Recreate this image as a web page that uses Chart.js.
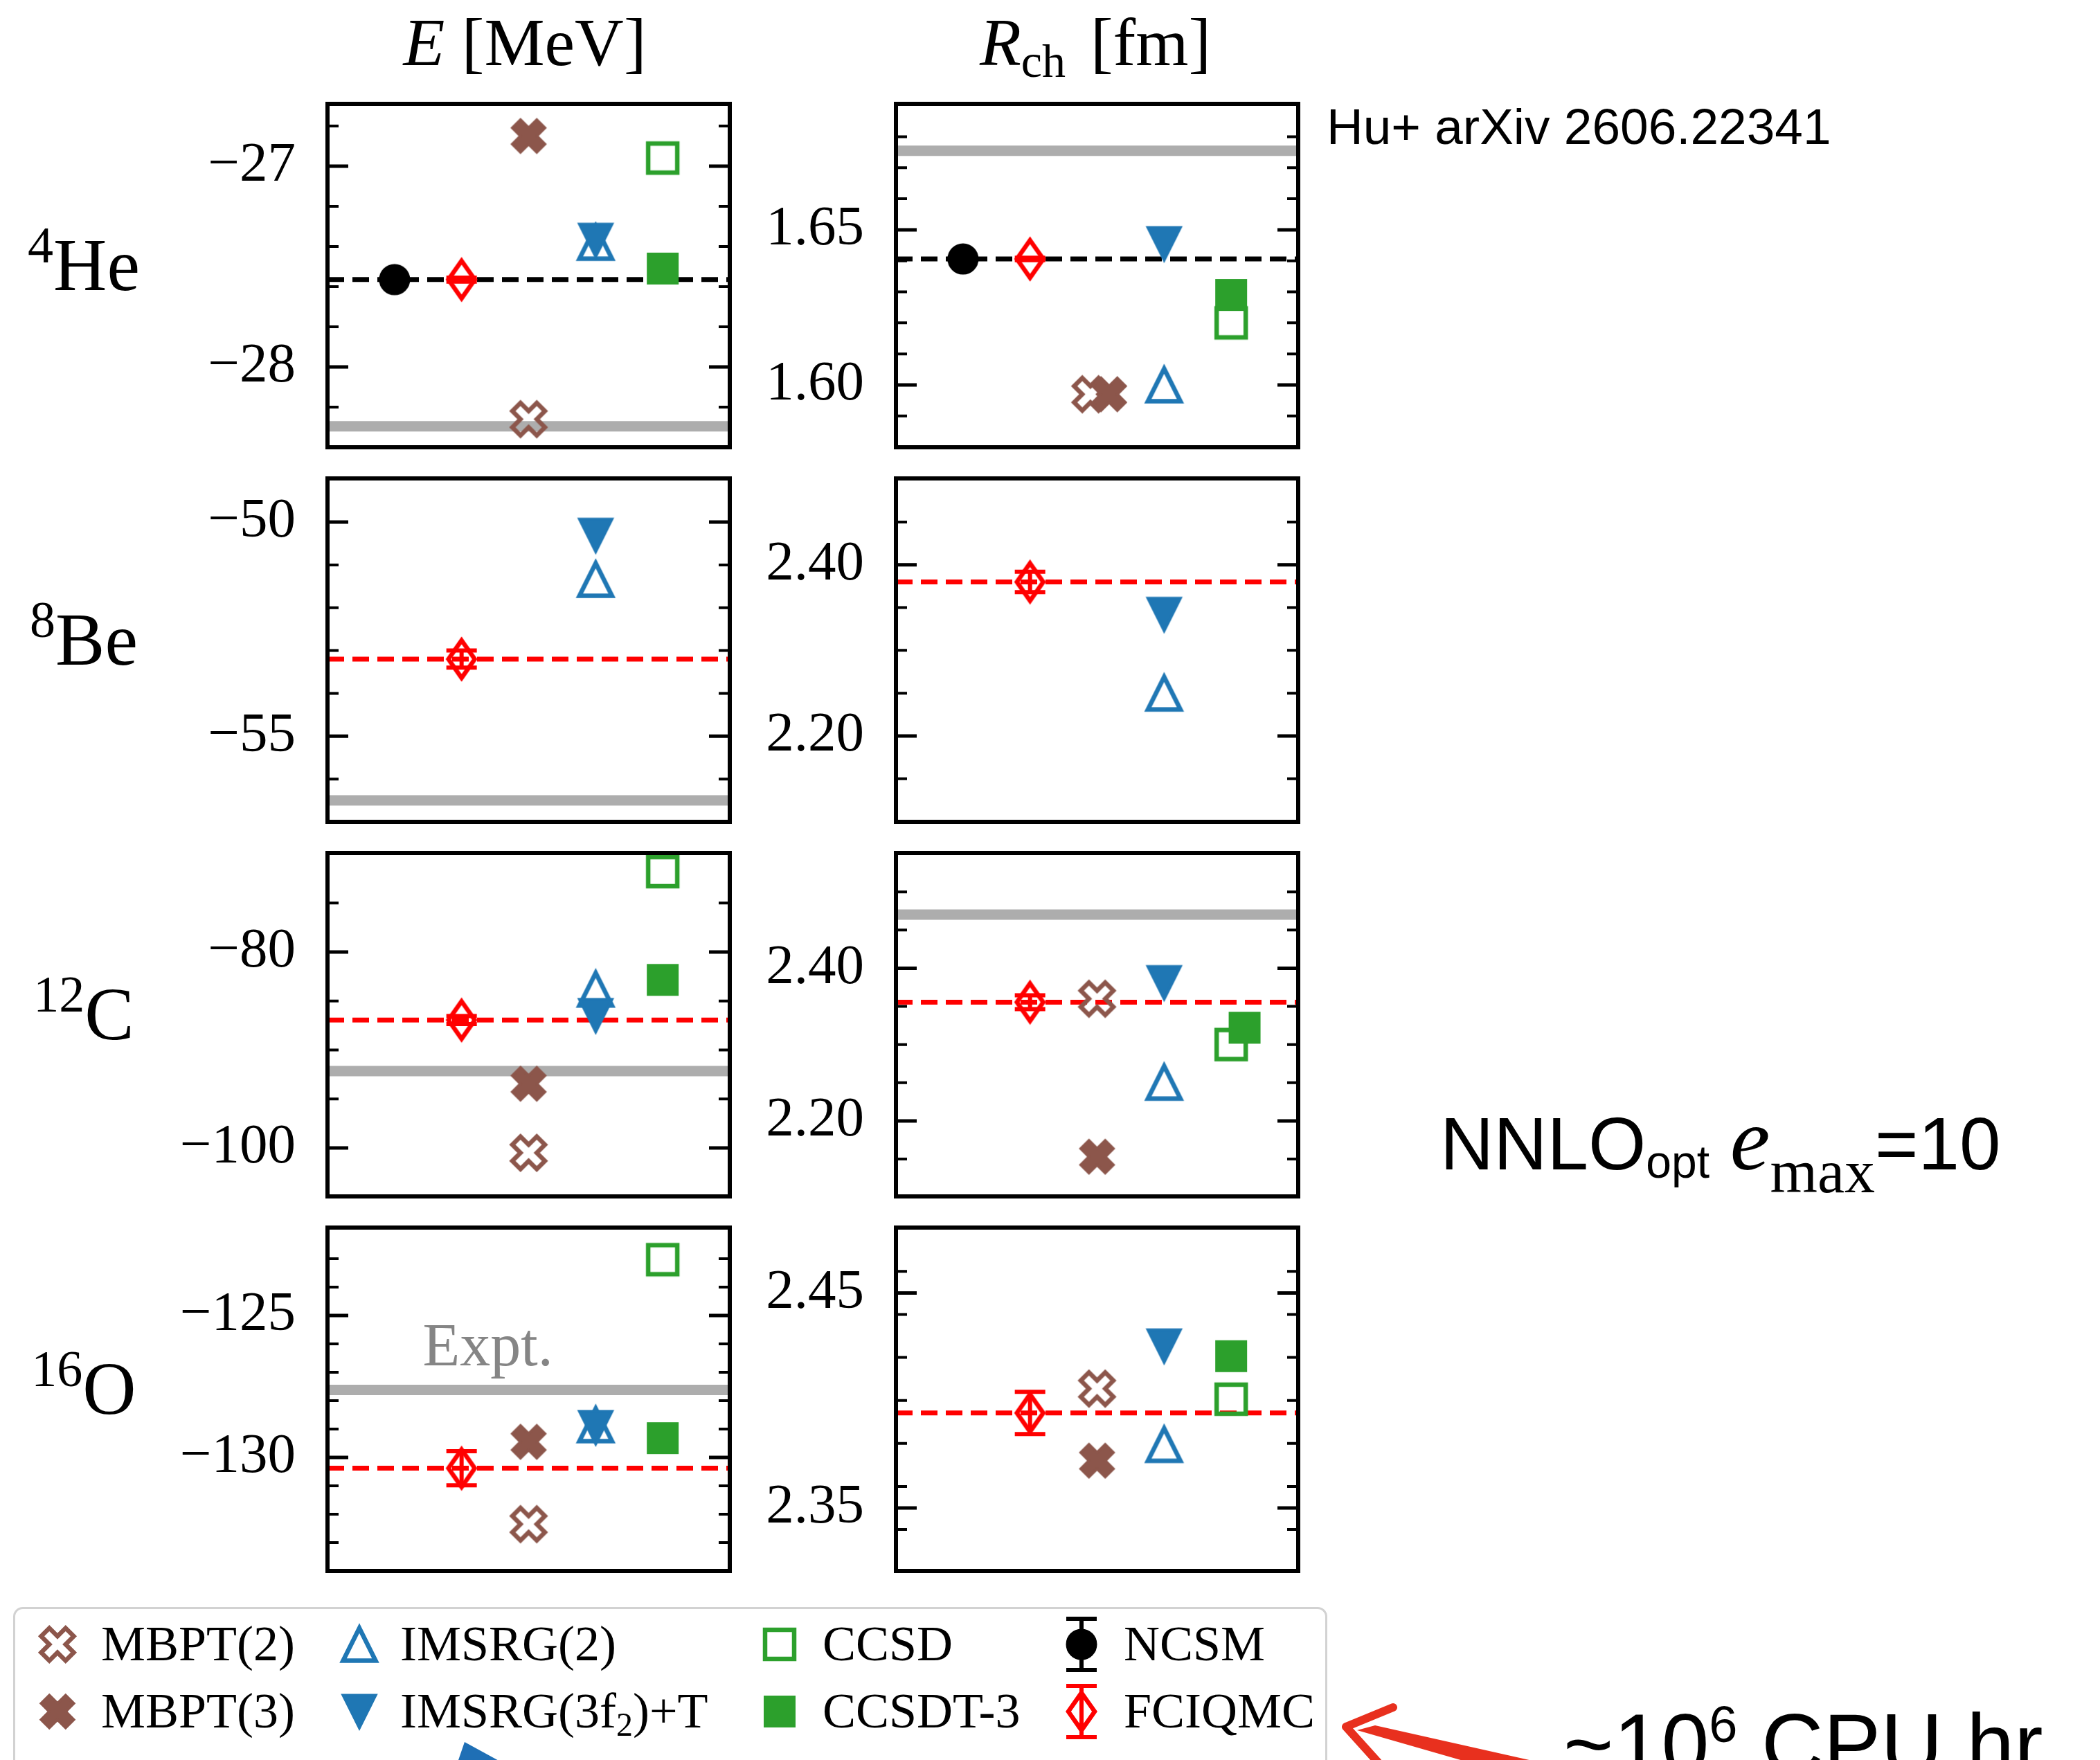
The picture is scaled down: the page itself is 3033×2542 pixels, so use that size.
<!DOCTYPE html>
<html lang="en">
<head>
<meta charset="utf-8">
<title>Ground-state energies and charge radii</title>
<script src="https://cdn.jsdelivr.net/npm/chart.js@4.4.1/dist/chart.umd.min.js"></script>
<style>
  html, body { margin:0; padding:0; background:#ffffff; }
  body { width:3033px; height:2542px; overflow:hidden; position:relative; }
  .abs { position:absolute; white-space:nowrap; line-height:1; color:#000; }
  .serif { font-family:"Liberation Serif","DejaVu Serif",serif; }
  .sans { font-family:"Liberation Sans",Arial,"DejaVu Sans",sans-serif; }
  .lo { line-height:0; }
  canvas.panel { position:absolute; }
  #lbox { position:absolute; left:19px; top:2321px; width:1898px; height:320px; border:3px solid #d2d2d2; border-radius:14px; box-sizing:border-box; background:#fff; }
</style>
</head>
<body>
<div id="lbox"></div>
<script>
// ================= DATA =================
const nucleusMass   = ['4', '8', '12', '16'];
const nucleusSymbol = ['He', 'Be', 'C', 'O'];
const methodNames   = ['MBPT(2)', 'MBPT(3)', 'IMSRG(2)', 'IMSRG(3f2)+T', 'CCSD', 'CCSDT-3', 'NCSM', 'FCIQMC'];

// Ground-state energies E [MeV]  (order: 4He, 8Be, 12C, 16O)
const E_MBPT2   = [-28.26, null, -100.5, -132.35];
const E_MBPT3   = [-26.85, null, -93.45, -129.45];
const E_IMSRG2  = [-27.38, -51.34, -83.8, -128.85];
const E_IMSRG3  = [-27.37, -50.31, -86.5, -128.95];
const E_CCSD    = [-26.96, null, -71.8, -123.03];
const E_CCSDT3  = [-27.51, null, -82.85, -129.32];
const E_NCSM    = [-27.565, null, null, null];
const E_NCSM_ERR   = [0.005, null, null, null];
const E_FCIQMC  = [-27.565, -53.2, -86.95, -130.38];
const E_FCIQMC_ERR = [0.01, 0.2, 0.4, 0.6];
const E_EXPT    = [-28.296, -56.50, -92.16, -127.62];

// Charge radii R_ch [fm]
const R_MBPT2   = [1.597, null, 2.360, 2.4055];
const R_MBPT3   = [1.597, null, 2.153, 2.372];
const R_IMSRG2  = [1.600, 2.250, 2.2505, 2.3795];
const R_IMSRG3  = [1.6455, 2.342, 2.381, 2.4253];
const R_CCSD    = [1.620, null, 2.300, 2.4006];
const R_CCSDT3  = [1.629, null, 2.322, 2.4206];
const R_NCSM    = [1.6406, null, null, null];
const R_NCSM_ERR   = [0.0003, null, null, null];
const R_FCIQMC  = [1.6406, 2.380, 2.3555, 2.3942];
const R_FCIQMC_ERR = [0.0004, 0.012, 0.009, 0.0098];
const R_EXPT    = [1.6755, null, 2.4702, null];

// Tick values and labels
const E_TICKS       = [[-27, -28], [-50, -55], [-80, -100], [-125, -130]];
const E_TICK_LABELS = [['\u221227', '\u221228'], ['\u221250', '\u221255'], ['\u221280', '\u2212100'], ['\u2212125', '\u2212130']];
const R_TICKS       = [[1.60, 1.65], [2.20, 2.40], [2.20, 2.40], [2.35, 2.45]];
const R_TICK_LABELS = [['1.60', '1.65'], ['2.20', '2.40'], ['2.20', '2.40'], ['2.35', '2.45']];
const E_RANGE = [[-28.40, -26.69], [-57.0, -48.98], [-104.95, -69.9], [-134.0, -121.9]];
const R_RANGE = [[1.5799, 1.6906], [2.0996, 2.501], [2.101, 2.551], [2.3207, 2.4804]];
const E_MINOR_STEP = [0.2, 1, 5, 1];
const R_MINOR_STEP = [0.01, 0.05, 0.05, 0.02];

const EXPT_LABEL = 'Expt.';

// ================= STYLE / LAYOUT =================
const BROWN = '#8c564b', BLUE = '#1f77b4', GREEN = '#2ca02c', RED = '#ff0000', BLACK = '#000000';
const BAND = '#adadad';
const METHOD_STYLE = {
  'MBPT(2)':      { shape: 'X',            color: BROWN, filled: false, col: 3 },
  'MBPT(3)':      { shape: 'X',            color: BROWN, filled: true,  col: 3 },
  'IMSRG(2)':     { shape: 'tri_up',       color: BLUE,  filled: false, col: 4 },
  'IMSRG(3f2)+T': { shape: 'tri_down',     color: BLUE,  filled: true,  col: 4 },
  'CCSD':         { shape: 'square',       color: GREEN, filled: false, col: 5 },
  'CCSDT-3':      { shape: 'square',       color: GREEN, filled: true,  col: 5 },
  'NCSM':         { shape: 'circle',       color: BLACK, filled: true,  col: 1 },
  'FCIQMC':       { shape: 'thin_diamond', color: RED,   filled: false, col: 2 }
};
// small horizontal shifts used in the original to avoid overlap
const X_SHIFT = { R: { 0: { 'MBPT(2)': -0.1, 'MBPT(3)': 0.18 }, 2: { 'CCSDT-3': 0.2 } }, E: {} };

const DATA = {
  E: { 'MBPT(2)': E_MBPT2, 'MBPT(3)': E_MBPT3, 'IMSRG(2)': E_IMSRG2, 'IMSRG(3f2)+T': E_IMSRG3,
       'CCSD': E_CCSD, 'CCSDT-3': E_CCSDT3, 'NCSM': E_NCSM, 'FCIQMC': E_FCIQMC },
  R: { 'MBPT(2)': R_MBPT2, 'MBPT(3)': R_MBPT3, 'IMSRG(2)': R_IMSRG2, 'IMSRG(3f2)+T': R_IMSRG3,
       'CCSD': R_CCSD, 'CCSDT-3': R_CCSDT3, 'NCSM': R_NCSM, 'FCIQMC': R_FCIQMC }
};
const ERR = { E: { 'NCSM': E_NCSM_ERR, 'FCIQMC': E_FCIQMC_ERR }, R: { 'NCSM': R_NCSM_ERR, 'FCIQMC': R_FCIQMC_ERR } };
const EXPT = { E: E_EXPT, R: R_EXPT };
const AXIS = {
  E: { ticks: E_TICKS, labels: E_TICK_LABELS, range: E_RANGE, minor: E_MINOR_STEP },
  R: { ticks: R_TICKS, labels: R_TICK_LABELS, range: R_RANGE, minor: R_MINOR_STEP }
};

const AXW = 300, PAD = 40, PANEL_W = 581, PANEL_H = 496;
const COL_LEFT = { E: 473, R: 1294 };
const ROW_TOP = [150, 691, 1232, 1773];

// ================= MARKERS =================
function drawShape(g, shape, color, filled) {
  g.save();
  g.lineWidth = filled ? 4 : 6.5;
  g.strokeStyle = color; g.fillStyle = color; g.lineJoin = 'miter'; g.miterLimit = 10;
  g.beginPath();
  if (shape === 'X') {
    const s = 47;
    const pts = [[0.25,0],[0.5,0.25],[0.75,0],[1,0.25],[0.75,0.5],[1,0.75],[0.75,1],[0.5,0.75],[0.25,1],[0,0.75],[0.25,0.5],[0,0.25]];
    pts.forEach(([a, b], i) => { const X = (a - 0.5) * s, Y = (b - 0.5) * s; if (i) g.lineTo(X, Y); else g.moveTo(X, Y); });
  } else if (shape === 'tri_up') {
    const h = 23.5; g.moveTo(0, -h); g.lineTo(h, h); g.lineTo(-h, h);
  } else if (shape === 'tri_down') {
    const h = 23.5; g.moveTo(0, h); g.lineTo(h, -h); g.lineTo(-h, -h);
  } else if (shape === 'square') {
    g.rect(-21, -21, 42, 42);
  } else if (shape === 'circle') {
    g.arc(0, 0, 20.5, 0, Math.PI * 2);
  } else if (shape === 'thin_diamond') {
    g.moveTo(0, -27); g.lineTo(19, 0); g.lineTo(0, 27); g.lineTo(-19, 0);
  }
  g.closePath();
  if (filled) g.fill();
  g.stroke();
  g.restore();
}
function markerCanvas(st) {
  const c = document.createElement('canvas'); c.width = 76; c.height = 76;
  const g = c.getContext('2d'); g.translate(38, 38);
  drawShape(g, st.shape, st.color, st.filled);
  return c;
}
const MARKERS = {};
for (const m of methodNames) MARKERS[m] = markerCanvas(METHOD_STYLE[m]);

// ================= PLUGINS =================
const framePlugin = {
  id: 'frame',
  afterDraw(chart, args, opts) {
    const { ctx, chartArea: a } = chart;
    const ys = chart.scales.y;
    ctx.save();
    ctx.strokeStyle = '#000';
    const step = opts.minorStep;
    const lo = Math.ceil(ys.min / step - 1e-6), hi = Math.floor(ys.max / step + 1e-6);
    ctx.lineWidth = 4;
    for (let k = lo; k <= hi; k++) {
      const v = +(k * step).toFixed(6);
      if (opts.majors.some(m => Math.abs(m - v) < step * 1e-3)) continue;
      const p = ys.getPixelForValue(v);
      if (p < a.top + 5 || p > a.bottom - 5) continue;
      ctx.beginPath(); ctx.moveTo(a.left, p); ctx.lineTo(a.left + 16, p);
      ctx.moveTo(a.right, p); ctx.lineTo(a.right - 16, p); ctx.stroke();
    }
    ctx.lineWidth = 5;
    for (const v of opts.majors) {
      const p = ys.getPixelForValue(v);
      ctx.beginPath(); ctx.moveTo(a.left, p); ctx.lineTo(a.left + 30, p);
      ctx.moveTo(a.right, p); ctx.lineTo(a.right - 30, p); ctx.stroke();
    }
    ctx.lineWidth = 6;
    ctx.strokeRect(a.left, a.top, a.right - a.left, a.bottom - a.top);
    ctx.restore();
  }
};
const errPlugin = {
  id: 'errbars',
  beforeDatasetDraw(chart, args) {
    const ds = chart.data.datasets[args.index];
    if (ds.errY == null) return;
    const { ctx } = chart;
    const xs = chart.scales.x, ys = chart.scales.y;
    const pt = ds.data[0];
    const px = xs.getPixelForValue(pt.x);
    const y1 = ys.getPixelForValue(pt.y - ds.errY), y2 = ys.getPixelForValue(pt.y + ds.errY);
    ctx.save();
    ctx.strokeStyle = ds.errColor; ctx.lineWidth = 6; ctx.lineCap = 'butt';
    ctx.beginPath();
    ctx.moveTo(px, y1); ctx.lineTo(px, y2);
    ctx.moveTo(px - 22, y1); ctx.lineTo(px + 22, y1);
    ctx.moveTo(px - 22, y2); ctx.lineTo(px + 22, y2);
    ctx.stroke();
    ctx.restore();
  }
};
const textPlugin = {
  id: 'annot',
  afterDatasetsDraw(chart, args, opts) {
    if (!opts || !opts.text) return;
    const { ctx } = chart;
    ctx.save();
    ctx.font = '88px "Liberation Serif", serif';
    ctx.fillStyle = '#858585';
    ctx.textAlign = 'left'; ctx.textBaseline = 'alphabetic';
    ctx.fillText(opts.text, chart.scales.x.getPixelForValue(opts.x), chart.scales.y.getPixelForValue(opts.y));
    ctx.restore();
  }
};

// ================= PANELS =================
function makePanel(q, n) {
  const cv = document.createElement('canvas');
  cv.className = 'panel';
  const W = AXW + PANEL_W + PAD, H = PANEL_H + 2 * PAD;
  cv.width = W; cv.height = H;
  cv.style.left = (COL_LEFT[q] - AXW) + 'px';
  cv.style.top = (ROW_TOP[n] - PAD) + 'px';
  cv.style.width = W + 'px'; cv.style.height = H + 'px';
  document.body.appendChild(cv);

  const ax = AXIS[q];
  const majors = ax.ticks[n], labels = ax.labels[n];
  const datasets = [];
  const ex = EXPT[q][n];
  if (ex != null) {
    datasets.push({ data: [{ x: 0, y: ex }, { x: 6, y: ex }], showLine: true, borderColor: BAND,
      borderWidth: 15, pointRadius: 0, borderCapStyle: 'butt', order: 100 });
  }
  const refMethod = DATA[q]['NCSM'][n] != null ? 'NCSM' : 'FCIQMC';
  const refVal = DATA[q][refMethod][n];
  datasets.push({ data: [{ x: 0, y: refVal }, { x: 6, y: refVal }], showLine: true,
    borderColor: refMethod === 'NCSM' ? BLACK : RED, borderWidth: 7, borderDash: [24, 12],
    pointRadius: 0, borderCapStyle: 'butt', order: 90 });

  methodNames.forEach((m, i) => {
    const v = DATA[q][m][n];
    if (v == null) return;
    const st = METHOD_STYLE[m];
    const shift = (X_SHIFT[q][n] && X_SHIFT[q][n][m]) || 0;
    const ds = { label: m, data: [{ x: st.col + shift, y: v }], pointStyle: MARKERS[m],
      pointRadius: 25, showLine: false, order: 50 - i };
    if (ERR[q][m] && ERR[q][m][n] != null) { ds.errY = ERR[q][m][n]; ds.errColor = st.color; }
    datasets.push(ds);
  });

  const annot = (q === 'E' && n === 3) ? { text: EXPT_LABEL, x: 1.42, y: -126.75 } : {};

  new Chart(cv, {
    type: 'scatter',
    data: { datasets },
    options: {
      responsive: false, animation: false, devicePixelRatio: 1, events: [],
      layout: { padding: { left: 0, right: PAD, top: PAD, bottom: PAD } },
      plugins: { legend: { display: false }, tooltip: { enabled: false },
        frame: { majors, minorStep: ax.minor[n] }, annot },
      scales: {
        x: { type: 'linear', min: 0, max: 6, display: false },
        y: {
          type: 'linear', position: 'left', min: ax.range[n][0], max: ax.range[n][1],
          grid: { display: false, drawTicks: false }, border: { display: false },
          afterBuildTicks: s => { s.ticks = majors.map(v => ({ value: v })); },
          afterFit: s => { s.width = AXW; s.paddingTop = 0; s.paddingBottom = 0; s.paddingLeft = 0; s.paddingRight = 0; },
          ticks: { padding: 46, color: '#000', autoSkip: false, maxRotation: 0,
            font: { family: '"Liberation Serif", serif', size: 81 },
            callback: (v, i) => labels[i] }
        }
      }
    },
    plugins: [framePlugin, errPlugin, textPlugin]
  });
}
for (let n = 0; n < 4; n++) { makePanel('E', n); makePanel('R', n); }

// ================= TEXT =================
function addDiv(html, cls, left, baseline, size, ascentRatio, extraStyle) {
  const d = document.createElement('div');
  d.className = 'abs ' + cls;
  d.style.fontSize = size + 'px';
  d.style.left = left + 'px';
  d.style.top = (baseline - ascentRatio * size) + 'px';
  if (extraStyle) d.style.cssText += extraStyle;
  d.innerHTML = html;
  document.body.appendChild(d);
  return d;
}
const SERIF_A = 0.8375, SANS_A = 0.8465;
// column titles
addDiv('<i>E</i> [MeV]', 'serif', 758, 94, 98, SERIF_A, 'transform:translateX(-50%);');
addDiv('<i>R</i><span class="lo" style="font-size:68px;vertical-align:-17px">ch</span><span style="margin-left:36px">[fm]</span>',
  'serif', 1582, 94, 98, SERIF_A, 'transform:translateX(-50%);');
// nucleus labels
for (let n = 0; n < 4; n++) {
  const base = ROW_TOP[n] + PANEL_H / 2 + 22;
  addDiv('<span class="lo" style="font-size:74px;vertical-align:40px">' + nucleusMass[n] + '</span>' + nucleusSymbol[n],
    'serif', 121, base, 107, SERIF_A, 'transform:translateX(-50%);');
}
// right-hand annotations
addDiv('Hu+ arXiv 2606.22341', 'sans', 1916, 208, 73, SANS_A);
addDiv('NNLO<span class="lo" style="font-size:66px;vertical-align:-12px">opt</span> ' +
  '<span class="lo serif" style="font-style:italic;font-size:130px">e</span>' +
  '<span class="lo serif" style="font-size:88px;vertical-align:-33px">max</span>=10',
  'sans', 2080, 1690, 107, SANS_A);
addDiv('~10<span class="lo" style="font-size:74px;vertical-align:46px">6</span> CPU hr', 'sans', 2258, 2562, 124, SANS_A);

// ================= LEGEND =================
const LEGEND_ROWS = [['MBPT(2)', 'IMSRG(2)', 'CCSD', 'NCSM'], ['MBPT(3)', 'IMSRG(3f2)+T', 'CCSDT-3', 'FCIQMC']];
const LEG_MARK_X = [83, 519, 1126, 1562];
const LEG_TEXT_X = [146, 578, 1188, 1623];
const LEG_ROW_Y = [2375, 2472];
LEGEND_ROWS.forEach((row, r) => {
  row.forEach((m, c) => {
    const st = METHOD_STYLE[m];
    const cv = document.createElement('canvas');
    cv.width = 90; cv.height = 100;
    cv.style.cssText = 'position:absolute;left:' + (LEG_MARK_X[c] - 45) + 'px;top:' + (LEG_ROW_Y[r] - 50) + 'px;width:90px;height:100px;';
    const g = cv.getContext('2d');
    g.translate(45, 50);
    if (m === 'NCSM' || m === 'FCIQMC') {
      g.strokeStyle = st.color; g.lineWidth = 6;
      g.beginPath();
      g.moveTo(0, -37); g.lineTo(0, 37);
      g.moveTo(-22, -37); g.lineTo(22, -37);
      g.moveTo(-22, 37); g.lineTo(22, 37);
      g.stroke();
    }
    drawShape(g, st.shape, st.color, st.filled);
    document.body.appendChild(cv);
    const label = m.replace('3f2', '3f<sub class="lo" style="font-size:48px;vertical-align:-12px">2</sub>');
    addDiv(label, 'serif', LEG_TEXT_X[c], LEG_ROW_Y[r] + 23, 72, SERIF_A);
  });
});

// ================= HAND-DRAWN ARROWS (decoration) =================
const ov = document.createElement('canvas');
ov.width = 3033; ov.height = 2542;
ov.style.cssText = 'position:absolute;left:0;top:0;width:3033px;height:2542px;pointer-events:none;';
document.body.appendChild(ov);
const og = ov.getContext('2d');
og.fillStyle = '#e8301e'; og.strokeStyle = '#e8301e';
og.lineWidth = 12; og.lineJoin = 'round'; og.lineCap = 'round';
og.beginPath(); og.moveTo(2012, 2466); og.lineTo(1944, 2494); og.lineTo(1990, 2545); og.stroke();
og.beginPath(); og.moveTo(1960, 2499); og.lineTo(1986, 2492); og.lineTo(2222, 2545); og.lineTo(2120, 2545); og.closePath(); og.fill();
og.fillStyle = '#1f6fb5';
og.beginPath(); og.moveTo(671, 2516); og.lineTo(661, 2545); og.lineTo(724, 2545); og.closePath(); og.fill();
</script>
</body>
</html>
